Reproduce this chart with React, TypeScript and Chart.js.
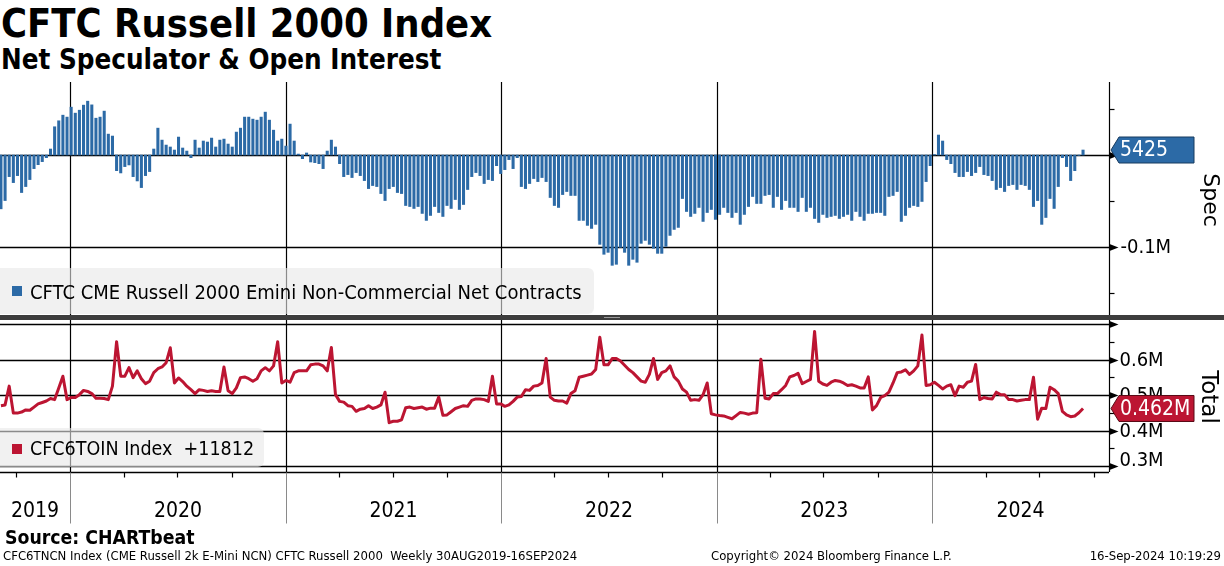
import React, { useEffect, useRef } from "react";
import { Chart, registerables } from "chart.js";

Chart.register(...registerables);

// ---------- data ----------
const FIRST_WEEK: [number, number, number] = [2019, 9, 6]; // weekly observations
const YEAR_LABELS = ["2019", "2020", "2021", "2022", "2023", "2024"];
const YEAR_STARTS = [2019, 2020, 2021, 2022, 2023, 2024, 2025];

// Net non-commercial contracts (thousands)
const SPEC_2019 = [-58.5, -49.5, -23.5, -30, -22.4, -40.8, -34.3, -26.7, -14.8, -10.5, -7.2, -2.9, 6.5, 30.7, 37.2, 43.3, 41.2];
const SPEC_2020 = [52, 45.5, 48.7, 54.2, 58.5, 54.5, 40, 41.2, 47.7, 22.7, 20.6, -17, -19.5, -12.6, -10.8, -23.5, -28.2, -35.4, -22.4, -18, 6.5, 29.2, 16.2, 10.8, 8.7, 5.4, 19.5, 7.6, 4.3, -2.9, 16.2, 7.6, 15.2, 14.1, 18.4, 8.7, 16.2, 17.3, 11.9, 8.7, 24.9, 29.2, 41.2, 41.2, 39, 37.9, 41.2, 46.6, 37.9, 27, 15.2, 17.3];
const SPEC_2021 = [9.7, 33.6, 15.2, 1, -4, 2.2, -7.6, -8.3, -9.4, -14.8, 4.3, 16.2, 8.7, -9.4, -23.5, -21.3, -24.5, -19.1, -22.4, -27.8, -36.5, -33.2, -34.3, -41.9, -49.5, -36.5, -34.3, -40.8, -41.9, -54.9, -56, -58.1, -56, -63.5, -71.1, -65.7, -56, -62.5, -66.8, -54.9, -58.1, -48.4, -59.2, -53.8, -37.5, -23.5, -19.1, -22.4, -31, -26.7, -27.8, -11.6, -20.2];
const SPEC_2022 = [-15.9, -5, -14.8, -2.9, -34.3, -36.5, -31, -25.6, -28.9, -24.5, -28.9, -46.2, -54.9, -57, -43, -39.7, -44, -44, -71.1, -71.1, -76.5, -79.8, -75.4, -97.1, -107.9, -105.8, -119.9, -118.8, -100.4, -105.8, -119.9, -113.4, -116.6, -96, -92.8, -97.1, -101.4, -106.9, -106.9, -99.3, -87.4, -80.9, -78.7, -47.3, -61.4, -66.8, -63.5, -57, -72.2, -62.5, -59.2, -70];
const SPEC_2023 = [-64.6, -57, -62.5, -67.9, -62.5, -75.4, -64.6, -56, -45.1, -52.7, -52.7, -44, -43, -57, -45.1, -59.2, -49.5, -57, -57, -61.4, -46.2, -61.4, -57, -69, -73.3, -64.6, -67.9, -66.8, -65.7, -69, -66.8, -64.6, -71.1, -61.4, -66.8, -71.1, -63.5, -63.5, -62.5, -62.5, -65.7, -45.1, -44, -39.7, -72.2, -65.7, -57, -54.9, -56, -50.5, -28.9, -11.6];
const SPEC_2024 = [0.5, 21.7, 15.2, -5, -9.4, -19.1, -23.5, -23.5, -18, -22.4, -19.1, -12.6, -21.3, -22.4, -27.8, -37.5, -35.4, -39.7, -33.2, -32.1, -37.5, -32.1, -33.2, -37.5, -56, -49.5, -75.4, -67.9, -47.3, -58.1, -34.3, -2.9, -12.6, -27.8, -17, -0.5, 5.425];

// Total open interest (thousands)
const TOTAL_2019 = [470, 472, 525, 449, 449, 452, 458, 457, 466, 475, 479, 483, 490, 487, 520, 553, 487];
const TOTAL_2020 = [493, 493, 501, 513, 510, 504, 491, 491, 490, 487, 525, 650, 553, 553, 577, 549, 568, 546, 532, 539, 563, 574, 579, 591, 633, 534, 548, 538, 525, 515, 504, 515, 513, 510, 512, 510, 510, 579, 512, 504, 520, 549, 551, 546, 539, 546, 568, 577, 568, 582, 650, 534];
const TOTAL_2021 = [541, 536, 563, 568, 568, 568, 585, 587, 587, 582, 568, 634, 501, 482, 480, 470, 468, 454, 460, 462, 470, 462, 466, 472, 508, 422, 426, 426, 430, 464, 466, 462, 464, 466, 460, 463, 463, 494, 443, 444, 453, 462, 466, 470, 468, 485, 489, 489, 487, 482, 553, 475, 475];
const TOTAL_2022 = [468, 472, 482, 494, 496, 515, 513, 525, 527, 534, 603, 494, 485, 483, 483, 477, 504, 512, 550, 553, 556, 559, 572, 663, 585, 585, 603, 603, 596, 584, 572, 563, 551, 539, 536, 558, 603, 544, 563, 568, 582, 551, 539, 517, 508, 485, 487, 485, 501, 534, 447, 444];
const TOTAL_2023 = [442, 441, 437, 433, 442, 451, 449, 446, 449, 450, 601, 491, 489, 504, 504, 515, 527, 551, 555, 561, 532, 538, 544, 679, 539, 531, 527, 536, 541, 539, 534, 527, 529, 525, 520, 520, 551, 458, 470, 493, 498, 508, 534, 563, 565, 571, 558, 568, 582, 669, 527, 529];
const TOTAL_2024 = [536, 527, 517, 525, 529, 498, 525, 522, 536, 539, 586, 487, 493, 490, 489, 508, 501, 501, 487, 487, 483, 485, 487, 487, 550, 432, 463, 462, 522, 515, 504, 454, 444, 439, 441, 450, 462];

const SPEC = [...SPEC_2019, ...SPEC_2020, ...SPEC_2021, ...SPEC_2022, ...SPEC_2023, ...SPEC_2024];
const TOTAL = [...TOTAL_2019, ...TOTAL_2020, ...TOTAL_2021, ...TOTAL_2022, ...TOTAL_2023, ...TOTAL_2024];

const SPEC_TICKS = [-150, -100, -50, 0, 50];
const SPEC_GRID = [-100, 0];
const SPEC_LABEL_VALUES = [-100];
const SPEC_LABEL_TEXT = ["-0.1M"];
const TOTAL_TICKS = [300, 350, 400, 450, 500, 550, 600, 650, 700];
const TOTAL_GRID = [300, 400, 500, 600, 700];
const TOTAL_LABEL_VALUES = [600, 500, 400, 300];
const TOTAL_LABEL_TEXT = ["0.6M", "0.5M", "0.4M", "0.3M"];
const SPEC_LAST_TEXT = "5425";
const TOTAL_LAST_TEXT = "0.462M";

// ---------- helpers ----------
const DAY0 = Date.UTC(2019, 0, 1);
const dayOf = (y: number, m: number, d: number) => (Date.UTC(y, m - 1, d) - DAY0) / 86400000;
const START = dayOf(FIRST_WEEK[0], FIRST_WEEK[1], FIRST_WEEK[2]);
const XS = SPEC.map((_, i) => START + 7 * i);
const XMIN = 246.4;
const XMAX = 2126;

const FONT = '"DejaVu Sans Condensed", "DejaVu Sans", sans-serif';
const BLUE = "#2c6aa6";
const RED = "#bc1532";
const AXIS_W = 115;
const GRID_W = 1.4;

function hline(ctx: CanvasRenderingContext2D, x1: number, x2: number, y: number) {
  ctx.beginPath();
  ctx.moveTo(x1, y);
  ctx.lineTo(x2, y);
  ctx.stroke();
}
function vline(ctx: CanvasRenderingContext2D, x: number, y1: number, y2: number) {
  ctx.beginPath();
  ctx.moveTo(x, y1);
  ctx.lineTo(x, y2);
  ctx.stroke();
}
function arrow(ctx: CanvasRenderingContext2D, x: number, y: number) {
  ctx.beginPath();
  ctx.moveTo(x, y - 3.5);
  ctx.lineTo(x + 9, y);
  ctx.lineTo(x, y + 3.5);
  ctx.closePath();
  ctx.fill();
}
function valueBox(ctx: CanvasRenderingContext2D, x: number, y: number, text: string, fill: string, stroke: string) {
  const h = 26, tip = 8, w = 83;
  const x0 = x + 1.5;
  ctx.save();
  ctx.beginPath();
  ctx.moveTo(x0, y);
  ctx.lineTo(x0 + tip, y - h / 2);
  ctx.lineTo(x0 + w, y - h / 2);
  ctx.lineTo(x0 + w, y + h / 2);
  ctx.lineTo(x0 + tip, y + h / 2);
  ctx.closePath();
  ctx.fillStyle = fill;
  ctx.fill();
  ctx.strokeStyle = stroke;
  ctx.lineWidth = 1;
  ctx.stroke();
  ctx.fillStyle = "#fff";
  ctx.font = `21px ${FONT}`;
  ctx.textBaseline = "middle";
  ctx.textAlign = "left";
  ctx.fillText(text, x0 + 9, y + 1);
  ctx.restore();
}
function rotatedTitle(ctx: CanvasRenderingContext2D, x: number, y: number, text: string, size: number) {
  ctx.save();
  ctx.translate(x, y);
  ctx.rotate(Math.PI / 2);
  ctx.font = `${size}px "DejaVu Sans", sans-serif`;
  ctx.fillStyle = "#000";
  ctx.textAlign = "center";
  ctx.textBaseline = "middle";
  ctx.fillText(text, 0, 0);
  ctx.restore();
}

const topPlugin = {
  id: "topPanel",
  beforeDatasetsDraw(chart: any) {
    const { ctx, chartArea: a, scales } = chart;
    const x = scales.x, y = scales.y;
    ctx.save();
    ctx.strokeStyle = "#000";
    ctx.lineWidth = 1.2;
    for (const yr of YEAR_STARTS.slice(1)) {
      const px = x.getPixelForValue(dayOf(yr, 1, 1));
      if (px > a.left && px < a.right) vline(ctx, Math.round(px) + 0.5, a.top, a.bottom);
    }
    ctx.lineWidth = GRID_W;
    for (const v of SPEC_GRID) {
      const py = Math.round(y.getPixelForValue(v)) + 0.5;
      hline(ctx, a.left, a.right, py);
    }
    ctx.restore();
  },
  afterDraw(chart: any) {
    const { ctx, chartArea: a, scales } = chart;
    const y = scales.y;
    ctx.save();
    ctx.strokeStyle = "#000";
    ctx.fillStyle = "#000";
    ctx.lineWidth = 1.2;
    const rx = Math.round(a.right) + 0.5;
    vline(ctx, rx, a.top, a.bottom);
    for (const v of SPEC_TICKS) {
      const py = Math.round(y.getPixelForValue(v)) + 0.5;
      if (v % 100 === 0) arrow(ctx, rx, py);
      else hline(ctx, rx, rx + 5, py);
    }
    ctx.font = `20px ${FONT}`;
    ctx.textBaseline = "middle";
    ctx.textAlign = "left";
    SPEC_LABEL_VALUES.forEach((v, i) => {
      ctx.fillText(SPEC_LABEL_TEXT[i], rx + 11, y.getPixelForValue(v) + 1);
    });
    rotatedTitle(ctx, 1210, 118, "Spec", 22);
    valueBox(ctx, rx, y.getPixelForValue(SPEC[SPEC.length - 1]), SPEC_LAST_TEXT, BLUE, "#163a5e");
    ctx.restore();
  },
};

const bottomPlugin = {
  id: "bottomPanel",
  beforeDatasetsDraw(chart: any) {
    const { ctx, chartArea: a, scales } = chart;
    const x = scales.x, y = scales.y;
    ctx.save();
    ctx.strokeStyle = "#000";
    ctx.lineWidth = GRID_W;
    for (const v of TOTAL_GRID) {
      const py = Math.round(y.getPixelForValue(v)) + 0.5;
      hline(ctx, a.left, a.right, py);
    }
    ctx.lineWidth = 1.2;
    for (const yr of YEAR_STARTS.slice(1)) {
      const px = x.getPixelForValue(dayOf(yr, 1, 1));
      if (px > a.left && px < a.right) vline(ctx, Math.round(px) + 0.5, a.top, a.bottom);
    }
    ctx.restore();
  },
  afterDraw(chart: any) {
    const { ctx, chartArea: a, scales } = chart;
    const x = scales.x, y = scales.y;
    ctx.save();
    ctx.strokeStyle = "#000";
    ctx.fillStyle = "#000";
    ctx.lineWidth = 1.2;
    const rx = Math.round(a.right) + 0.5;
    const by = Math.round(a.bottom) + 0.5;
    vline(ctx, rx, a.top, a.bottom);
    ctx.lineWidth = GRID_W;
    hline(ctx, a.left, a.right, by);
    ctx.lineWidth = 1.2;
    for (const v of TOTAL_TICKS) {
      const py = Math.round(y.getPixelForValue(v)) + 0.5;
      if (v % 100 === 0) arrow(ctx, rx, py);
      else hline(ctx, rx, rx + 5, py);
    }
    ctx.font = `20px ${FONT}`;
    ctx.textBaseline = "middle";
    ctx.textAlign = "left";
    TOTAL_LABEL_VALUES.forEach((v, i) => {
      const shift = v === 300 ? -6 : 0;
      ctx.fillText(TOTAL_LABEL_TEXT[i], rx + 10, y.getPixelForValue(v) + 1 + shift);
    });
    // quarter ticks
    for (let yr = 2019; yr <= 2024; yr++) {
      for (const m of [4, 7, 10]) {
        const px = x.getPixelForValue(dayOf(yr, m, 1));
        if (px > a.left && px < a.right) vline(ctx, Math.round(px) + 0.5, by, by + 5);
      }
    }
    // year separators & labels
    ctx.strokeStyle = "#8a8a8a";
    ctx.lineWidth = 1;
    for (const yr of YEAR_STARTS.slice(1)) {
      const px = x.getPixelForValue(dayOf(yr, 1, 1));
      if (px > a.left && px < a.right) vline(ctx, Math.round(px) + 0.5, by, by + 51);
    }
    ctx.fillStyle = "#000";
    ctx.textAlign = "center";
    ctx.font = `21px ${FONT}`;
    YEAR_LABELS.forEach((lab, i) => {
      const l = Math.max(a.left, x.getPixelForValue(dayOf(YEAR_STARTS[i], 1, 1)));
      const r = Math.min(a.right, x.getPixelForValue(dayOf(YEAR_STARTS[i + 1], 1, 1)));
      ctx.fillText(lab, (l + r) / 2, by + 39);
    });
    rotatedTitle(ctx, 1208, 77, "Total", 23);
    valueBox(ctx, rx, y.getPixelForValue(TOTAL[TOTAL.length - 1]), TOTAL_LAST_TEXT, RED, "#5a0a16");
    ctx.restore();
  },
};

export default function App() {
  const topRef = useRef<HTMLCanvasElement>(null);
  const botRef = useRef<HTMLCanvasElement>(null);

  useEffect(() => {
    const fitRight = (s: any) => {
      s.width = AXIS_W;
    };
    const top = new Chart(topRef.current as HTMLCanvasElement, {
      type: "bar",
      data: {
        datasets: [
          {
            data: SPEC.map((v, i) => ({ x: XS[i], y: v })),
            backgroundColor: BLUE,
            borderWidth: 0,
            barThickness: 2.4,
          } as any,
        ],
      },
      options: {
        animation: false,
        responsive: false,
        maintainAspectRatio: false,
        layout: { padding: 0 },
        plugins: { legend: { display: false }, tooltip: { enabled: false } },
        scales: {
          x: { type: "linear", min: XMIN, max: XMAX, display: false, offset: false },
          y: {
            position: "right",
            min: -173.9,
            max: 79.35,
            afterFit: fitRight,
            ticks: { display: false },
            grid: { display: false },
            border: { display: false },
          },
        },
      } as any,
      plugins: [topPlugin],
    });

    const bottom = new Chart(botRef.current as HTMLCanvasElement, {
      type: "line",
      data: {
        datasets: [
          {
            data: TOTAL.map((v, i) => ({ x: XS[i], y: v })),
            borderColor: RED,
            borderWidth: 3,
            pointRadius: 0,
            tension: 0,
            borderJoinStyle: "round",
            fill: false,
          } as any,
        ],
      },
      options: {
        animation: false,
        responsive: false,
        maintainAspectRatio: false,
        layout: { padding: { left: 0, right: 0, top: 0, bottom: 58 } },
        plugins: { legend: { display: false }, tooltip: { enabled: false } },
        scales: {
          x: { type: "linear", min: XMIN, max: XMAX, display: false },
          y: {
            position: "right",
            min: 283.1,
            max: 711.3,
            afterFit: fitRight,
            ticks: { display: false },
            grid: { display: false },
            border: { display: false },
          },
        },
      } as any,
      plugins: [bottomPlugin],
    });

    return () => {
      top.destroy();
      bottom.destroy();
    };
  }, []);

  const abs = (o: React.CSSProperties): React.CSSProperties => ({ position: "absolute", ...o });
  const legendBox: React.CSSProperties = {
    background: "rgba(232,232,232,0.6)",
    borderRadius: "0 6px 6px 0",
  };

  return (
    <div style={abs({ left: 0, top: 0, width: 1224, height: 566, background: "#fff", overflow: "hidden", fontFamily: FONT, color: "#000" })}>
      <div style={abs({ left: 1, top: 4, fontSize: 39.5, fontWeight: "bold", lineHeight: "39.5px", whiteSpace: "nowrap" })}>CFTC Russell 2000 Index</div>
      <div style={abs({ left: 1, top: 46, fontSize: 27.5, fontWeight: "bold", lineHeight: "27.5px", whiteSpace: "nowrap" })}>Net Speculator &amp; Open Interest</div>

      <canvas ref={topRef} width={1224} height={233} style={abs({ left: 0, top: 82, width: 1224, height: 233 })} />
      <canvas ref={botRef} width={1224} height={210} style={abs({ left: 0, top: 320, width: 1224, height: 210 })} />

      <div style={abs({ left: 0, top: 315, width: 1224, height: 5, background: "#3d3d3d" })} />
      <div style={abs({ left: 604, top: 317, width: 16, height: 1, background: "#9a9a9a" })} />

      <div style={abs({ left: 0, top: 268, width: 594, height: 46, ...legendBox })}>
        <div style={abs({ left: 12, top: 18, width: 10, height: 10, background: BLUE })} />
        <div style={abs({ left: 30, top: 14, fontSize: 20, lineHeight: "20px", whiteSpace: "pre" })}>CFTC CME Russell 2000 Emini Non-Commercial Net Contracts</div>
      </div>
      <div style={abs({ left: 0, top: 428, width: 264, height: 39, ...legendBox })}>
        <div style={abs({ left: 12, top: 16, width: 10, height: 10, background: RED })} />
        <div style={abs({ left: 30, top: 11, fontSize: 19.5, lineHeight: "19.5px", whiteSpace: "pre" })}>CFC6TOIN Index  +11812</div>
      </div>

      <div style={abs({ left: 5, top: 528, fontSize: 19.3, fontWeight: "bold", lineHeight: "19.3px", whiteSpace: "nowrap" })}>Source: CHARTbeat</div>
      <div style={abs({ left: 3, top: 549, fontSize: 13, lineHeight: "13px", whiteSpace: "pre" })}>CFC6TNCN Index (CME Russell 2k E-Mini NCN) CFTC Russell 2000  Weekly 30AUG2019-16SEP2024</div>
      <div style={abs({ left: 711, top: 549, fontSize: 13, lineHeight: "13px", whiteSpace: "pre" })}>Copyright© 2024 Bloomberg Finance L.P.</div>
      <div style={abs({ right: 3, top: 549, fontSize: 13, lineHeight: "13px", whiteSpace: "pre" })}>16-Sep-2024 10:19:29</div>
    </div>
  );
}
